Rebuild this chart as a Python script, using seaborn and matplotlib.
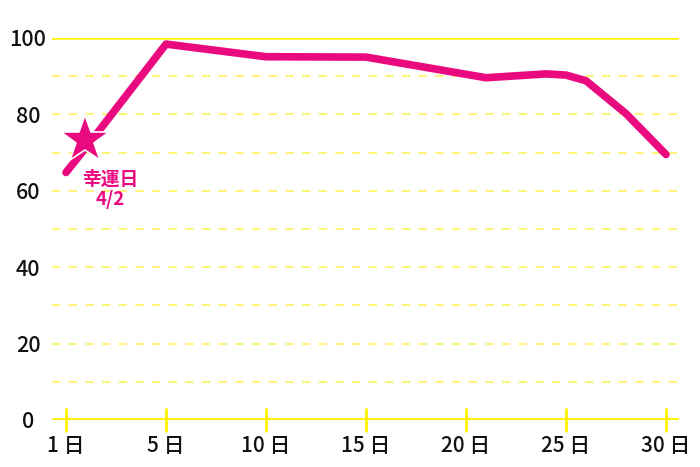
import numpy as np
import pandas as pd
import matplotlib
matplotlib.use("Agg")
import matplotlib.pyplot as plt
import matplotlib.transforms as mtransforms
import seaborn as sns

# データ
tick_days = [1, 5, 10, 15, 20, 25, 30]
tick_labels = ["1 日", "5 日", "10 日", "15 日", "20 日", "25 日", "30 日"]
days = [1, 2, 5, 10, 15, 21, 24, 25, 26, 28, 30]
scores = [64.8, 73.0, 98.4, 95.1, 95.0, 89.6, 90.6, 90.3, 88.8, 80.2, 69.5]
lucky_day = 2
lucky_score = 73.3
lucky_text = "幸運日\n4/2"

PINK = "#ea0a80"
YELLOW = "#fff200"
LIGHT_YELLOW = "#fff47a"

sns.set_style("white")
plt.rcParams["font.family"] = ["Noto Sans CJK JP", "DejaVu Sans"]

# 目盛りは等間隔なので日付を位置に変換
pos = np.interp(days, tick_days, np.arange(len(tick_days)))
df = pd.DataFrame({"pos": pos, "score": scores})

fig = plt.figure(figsize=(7, 4.67), dpi=100)
ax = fig.add_axes([52 / 700, 1 - 420 / 467, 627 / 700, 382 / 467])

# グリッド
for v in range(10, 100, 10):
    ax.axhline(v, color=LIGHT_YELLOW, lw=1.5, ls=(0, (4, 4)), zorder=1)
ax.axhline(100, color=YELLOW, lw=1.8, zorder=1)
ax.axhline(0, color=YELLOW, lw=3.5, zorder=2, solid_capstyle="butt")

sns.lineplot(data=df, x="pos", y="score", sort=False, color=PINK, lw=5.5,
             ax=ax, zorder=3, solid_capstyle="round", solid_joinstyle="round")

lp = np.interp(lucky_day, tick_days, np.arange(len(tick_days)))
shift = mtransforms.offset_copy(ax.transData, fig=fig, x=-4.5, y=0, units="points")
ax.plot([lp], [lucky_score], marker="*", ms=36, color=PINK, mec="white",
        mew=1.2, zorder=4, clip_on=False, transform=shift)
ax.text(lp + 0.19, 60.3, lucky_text, color=PINK, fontsize=13.5, ha="center",
        va="center", linespacing=1.05, fontweight="bold")

ax.set_xlim(-0.14, 6.13)
ax.set_ylim(0, 100)
ax.set_xticks(np.arange(len(tick_days)))
ax.set_xticklabels(tick_labels)
ax.set_yticks(range(0, 101, 20))
ax.set_xlabel("")
ax.set_ylabel("")
for s in ax.spines.values():
    s.set_visible(False)

ax.tick_params(axis="x", bottom=True, length=17, width=2, color=YELLOW,
               direction="inout", pad=2, labelsize=15, labelcolor="#111111")
ax.tick_params(axis="y", left=False, length=0, pad=0, labelsize=15.5,
               labelcolor="#111111")
for t in ax.get_xticklabels():
    t.set_fontweight("medium")
for t in ax.get_yticklabels():
    t.set_horizontalalignment("center")
    t.set_x(-24 / 627)
    t.set_fontweight("medium")

fig.savefig("out.png", dpi=100)
